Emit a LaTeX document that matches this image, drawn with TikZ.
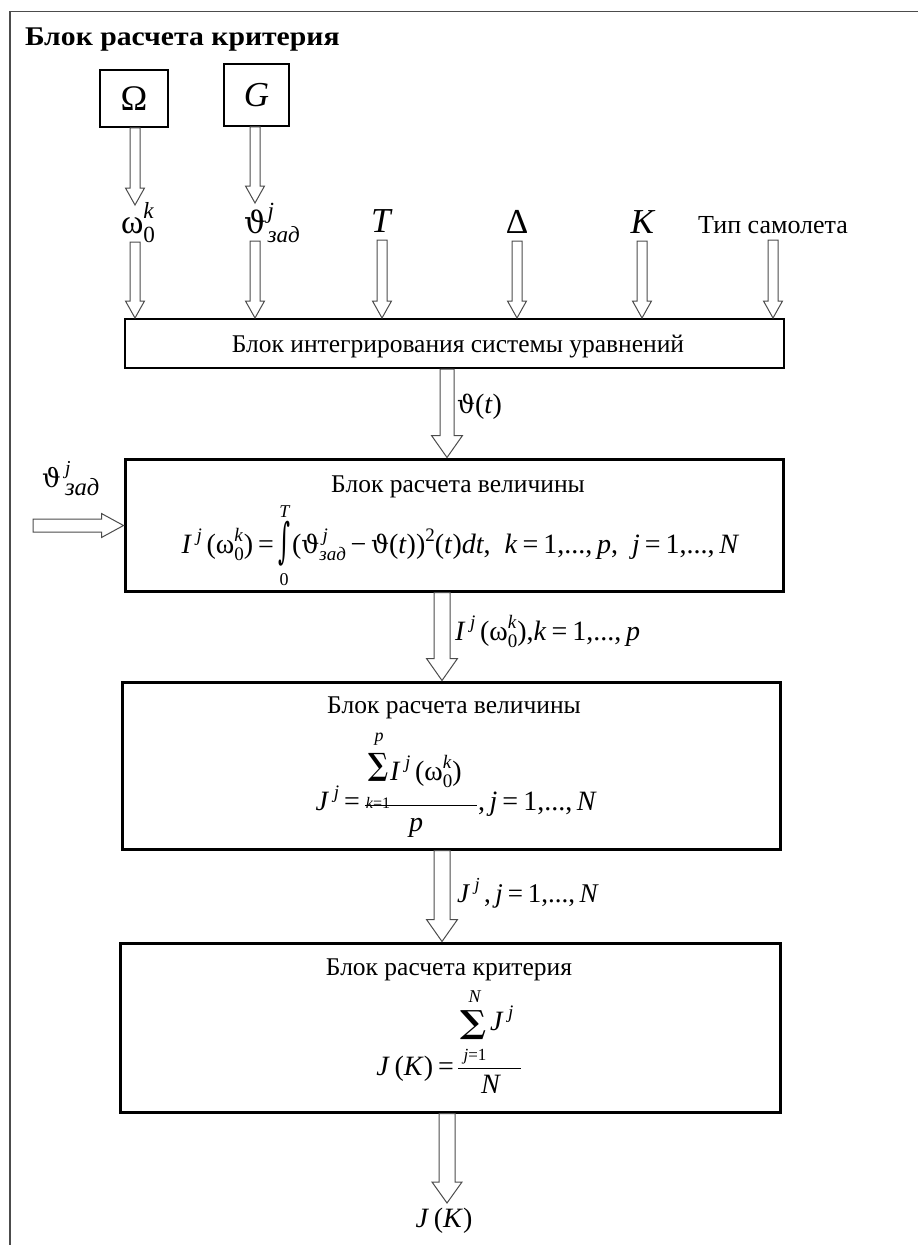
\documentclass[tikz,border=0pt]{standalone}
\usepackage{graphicx}
\usepackage{fontspec}
\setmainfont{Liberation Serif}
\newfontfamily\grk[Scale=0.9]{DejaVu Serif}
\usetikzlibrary{calc}
\newcommand{\mi}[1]{\textit{#1}}
\newcommand{\thv}{{\upshape\grk ϑ}}
\newcommand{\om}{{\upshape ω}}
\newcommand{\zad}{{\itshape зад}}
\newcommand{\eqs}{\hspace{0.18em}=\hspace{0.18em}}
\newcommand{\fs}[1]{\fontsize{#1}{#1}\selectfont}
\newcommand{\Sup}[1]{\raisebox{0.42em}{\scalebox{0.68}{#1}}}
\newcommand{\Sub}[1]{\raisebox{-0.28em}{\scalebox{0.68}{#1}}}
\newsavebox\supbx
\newsavebox\subbx
\newcommand{\SupSub}[2]{\sbox\supbx{\Sup{#1}}\sbox\subbx{\Sub{#2}}%
  \ifdim\wd\supbx>\wd\subbx\makebox[0pt][l]{\usebox\subbx}\usebox\supbx
  \else\makebox[0pt][l]{\usebox\supbx}\usebox\subbx\fi}
\newcommand{\dnarrow}[5]{\draw[hollow] let \p1=(#1), \p2=(#2) in
  (\x2-#3,\y1) -- (\x2-#3,\y2+#5) -- (\x2-#4,\y2+#5) -- (\x2,\y2) -- (\x2+#4,\y2+#5) -- (\x2+#3,\y2+#5) -- (\x2+#3,\y1) -- cycle;}
\newcommand{\rtarrow}[5]{\draw[hollow] let \p1=(#1), \p2=(#2) in
  (\x1,\y2+#3) -- (\x2-#5,\y2+#3) -- (\x2-#5,\y2+#4) -- (\x2,\y2) -- (\x2-#5,\y2-#4) -- (\x2-#5,\y2-#3) -- (\x1,\y2-#3) -- cycle;}
\tikzset{
  frameline/.style={draw=black!70, line width=1.2pt},
  hollow/.style={draw=black!70, line width=1pt, fill=white},
  smallbox/.style={draw=black, line width=1.5pt, inner sep=0pt},
  blockbox/.style={draw=black, line width=3pt, inner sep=0pt},
  intbox/.style={draw=black, line width=2pt, inner sep=0pt},
  txt/.style={inner sep=0pt, outer sep=0pt},
  blocktitle/.style={txt, font=\fs{25.5}},
  biglabel/.style={txt, font=\fs{35}},
  midlabel/.style={txt, font=\fs{28}},
  formula/.style={txt, font=\fs{28}},
  limtext/.style={txt, font=\fs{18}},
  fracbar/.style={draw=black, line width=1pt}
}
\begin{document}
\begin{tikzpicture}[x=1pt,y=-1pt]
\useasboundingbox (0,0) rectangle (918,1245);
% frame
\draw[frameline] (10,1245) -- (10,11.5) -- (918,11.5);
\node[txt, anchor=base west, font=\fs{27}\bfseries] (title) at (25,45) {\scalebox{1.1}[1]{Блок расчета критерия}};

% source boxes
\node[smallbox, minimum width=68, minimum height=57, font=\fs{36}] (Om) at (134,98.5) {Ω};
\node[smallbox, minimum width=65, minimum height=62, font=\fs{35}] (G) at (256.5,95) {\mi{G}};

% input labels
\node[biglabel, anchor=base west, font=\fs{34}] (om0) at (121,233) {\om\SupSub{\mi{k}}{0}};
\node[biglabel, anchor=base west, font=\fs{34}] (thz) at (244,233) {\thv\hspace{0.05em}\SupSub{\mi{j}}{\zad}};
\node[biglabel, anchor=base] (T) at (382,232) {\mi{T}};
\node[biglabel, anchor=base] (D) at (517,233) {Δ};
\node[biglabel, anchor=base] (K) at (643,233) {\mi{K}};
\node[txt, anchor=base, font=\fs{26}] (tip) at (773,233) {Тип самолета};

% integration block
\node[intbox, minimum width=659, minimum height=49] (integ) at (454.5,343.5) {};
\node[blocktitle, anchor=base] (integT) at (458,352) {Блок интегрирования системы уравнений};

% arrow positions
\coordinate (xOm) at (135,0);
\coordinate (xG) at (255,0);
\coordinate (xT) at (382,0);
\coordinate (xD) at (517,0);
\coordinate (xK) at (642,0);
\coordinate (xTip) at (773,0);
\coordinate (sOm) at (135,242);
\coordinate (sG) at (255,241);
\coordinate (sT) at (382,240);
\coordinate (sD) at (517,241);
\coordinate (sK) at (642,241);
\coordinate (sTip) at (773,240);
\coordinate (eOm) at (135,205);
\coordinate (eG) at (255,203);

\dnarrow{Om.south}{eOm}{5pt}{9.5pt}{17pt}
\dnarrow{G.south}{eG}{5pt}{9.5pt}{17pt}
\dnarrow{sOm}{xOm |- integ.north}{5pt}{9.5pt}{17pt}
\dnarrow{sG}{xG |- integ.north}{5pt}{9.5pt}{17pt}
\dnarrow{sT}{xT |- integ.north}{5pt}{9.5pt}{17pt}
\dnarrow{sD}{xD |- integ.north}{5pt}{9.5pt}{17pt}
\dnarrow{sK}{xK |- integ.north}{5pt}{9.5pt}{17pt}
\dnarrow{sTip}{xTip |- integ.north}{5pt}{9.5pt}{17pt}

% block 2
\node[blockbox, minimum width=658, minimum height=132] (b2) at (454,525) {};
\node[blocktitle, anchor=base] (b2T) at (458,492) {Блок расчета величины};
\node[formula, anchor=base east] (b2Fa) at (274,553) {\mi{I}\,\Sup{\mi{j}}\,(\om\SupSub{\mi{k}}{0})\eqs};
\node[txt] (b2int) at (284,544) {\resizebox*{12pt}{45pt}{\grk ∫}};
\node[limtext, anchor=base] (b2up) at (285,517) {\mi{T}};
\node[limtext, anchor=base] (b2lo) at (284,585) {0};
\node[formula, anchor=base west] (b2Fb) at (292,553) {(\thv\SupSub{\,\mi{j}}{\zad}\,−\,\thv(\mi{t}))\Sup{2}(\mi{t})\mi{dt},\ \ \mi{k}\eqs1,...,\,\mi{p},\ \ \mi{j}\eqs1,...,\,\mi{N}};
\coordinate (x12) at (447,0);
\dnarrow{integ.south -| x12}{x12 |- b2.north}{7pt}{15.5pt}{22pt}
\node[midlabel, anchor=base west] (thetat) at (457,413) {\thv(\mi{t})};

% left input
\node[txt, anchor=base west, font=\fs{29}] (thzL) at (42,487) {\thv\hspace{0.15em}\SupSub{\mi{j}}{\scalebox{1.25}{\zad}}};
\coordinate (sL) at (33,525.5);
\rtarrow{sL}{b2.west |- sL}{6.5pt}{12pt}{22pt}

% block 3
\node[blockbox, minimum width=658, minimum height=167] (b3) at (451,765.5) {};
\node[blocktitle, anchor=base] (b3T) at (454,713) {Блок расчета величины};
\node[formula, anchor=base east] (b3Fa) at (360,810) {\mi{J}\,\Sup{\mi{j}}\eqs};
\draw[fracbar] (365,805) -- (477,805);
\node[txt] (b3sum) at (378,767) {\resizebox*{20pt}{28pt}{\grk\bfseries ∑}};
\node[limtext, anchor=base] (b3up) at (379,741) {\mi{p}};
\node[limtext, anchor=base, font=\fs{16}] (b3lo) at (378,808) {\mi{k}=1};
\node[formula, anchor=base west] (b3num) at (390,780) {\mi{I}\,\Sup{\mi{j}}\,(\om\SupSub{\mi{k}}{0})};
\node[formula, anchor=base] (b3den) at (416,831) {\mi{p}};
\node[formula, anchor=base west] (b3Fb) at (478,810) {,\,\mi{j}\eqs1,...,\,\mi{N}};
\coordinate (x23) at (442,0);
\dnarrow{b2.south -| x23}{x23 |- b3.north}{8pt}{15.5pt}{22pt}
\node[midlabel, anchor=base west] (Ilab) at (455,640) {\mi{I}\,\Sup{\mi{j}}\,(\om\SupSub{\mi{k}}{0}),\mi{k}\eqs1,...,\,\mi{p}};

% block 4
\node[blockbox, minimum width=660, minimum height=169] (b4) at (450,1027.5) {};
\node[blocktitle, anchor=base] (b4T) at (449,975) {Блок расчета критерия};
\node[formula, anchor=base east] (b4Fa) at (454,1075) {\mi{J}\,(\mi{K})\eqs};
\draw[fracbar] (458,1068) -- (521,1068);
\node[txt] (b4sum) at (473.5,1025) {\resizebox*{26pt}{29pt}{\grk\bfseries ∑}};
\node[limtext, anchor=base] (b4up) at (475,1002) {\mi{N}};
\node[limtext, anchor=base, font=\fs{17}] (b4lo) at (475,1060) {\mi{j}=1};
\node[formula, anchor=base west] (b4num) at (490,1030) {\mi{J}\,\Sup{\mi{j}}};
\node[formula, anchor=base] (b4den) at (491,1093) {\mi{N}};
\coordinate (x34) at (442,0);
\dnarrow{b3.south -| x34}{x34 |- b4.north}{8pt}{15.5pt}{22pt}
\node[midlabel, anchor=base west, font=\fs{27}] (Jlab) at (457,902) {\mi{J}\,\Sup{\mi{j}}\,,\,\mi{j}\eqs1,...,\,\mi{N}};

% output
\coordinate (xo) at (447,0);
\coordinate (eo) at (447,1203);
\dnarrow{b4.south -| xo}{eo}{8pt}{15pt}{21pt}
\node[midlabel, anchor=base] (JK) at (444,1227) {\mi{J}\,(\mi{K})};
\end{tikzpicture}
\end{document}
